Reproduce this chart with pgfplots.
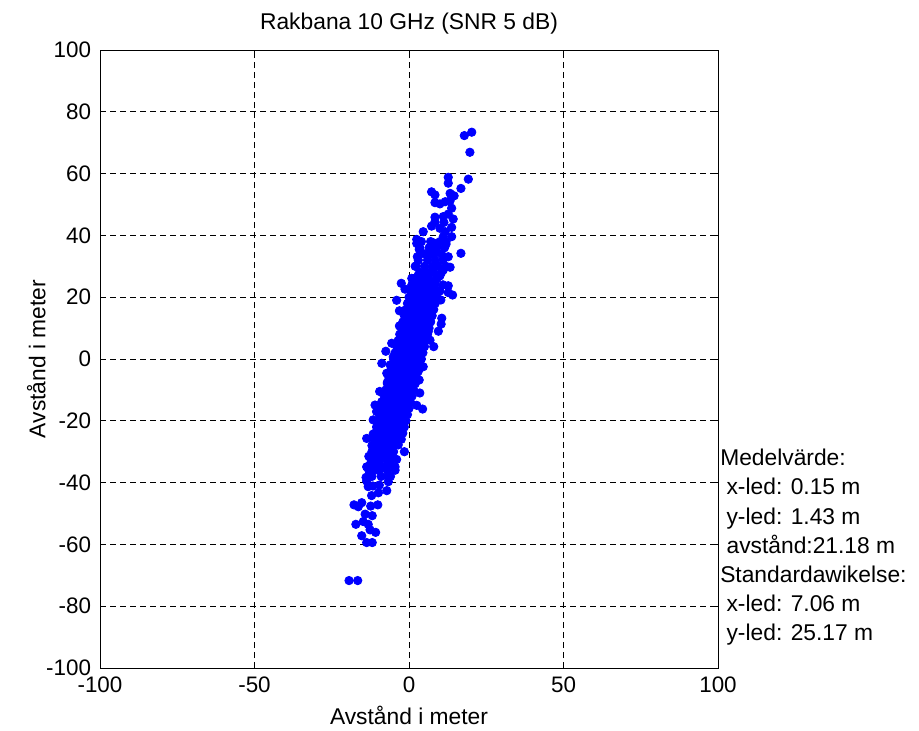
\documentclass[border=0pt]{standalone}
\usepackage{pgfplots}
\pgfplotsset{compat=1.18}
\usepackage{fontspec}
\setmainfont{Liberation Sans}
\begin{document}
\fontsize{11.4}{13.6}\selectfont
\begin{tikzpicture}
\useasboundingbox (-50pt,-31pt) rectangle (409.5pt,334pt);
\begin{axis}[
  at={(0,0)}, anchor=south west,
  scale only axis, width=309pt, height=309pt,
  xmin=-100, xmax=100, ymin=-100, ymax=100,
  xtick={-100,-50,0,50,100}, ytick={-100,-80,...,100},
  tick align=inside, major tick length=3pt,
  axis on top,
  axis line style={black, line width=0.5pt},
  every tick/.style={black, line width=0.5pt},
  grid=major,
  major grid style={black, line width=0.4pt, dash pattern=on 3pt off 2pt},
  /pgf/number format/assume math mode=true,
  tick label style={font=\fontsize{11.2}{13.4}\selectfont},
  xticklabel style={yshift=-0.5pt},
  yticklabel style={xshift=-0.5pt},
  title={Rakbana 10 GHz (SNR 5 dB)},
  title style={font=\fontsize{11.4}{13.6}\selectfont, yshift=-2pt},
  xlabel={Avstånd i meter}, ylabel={Avstånd i meter},
  label style={font=\fontsize{11.4}{13.6}\selectfont},
  xlabel style={yshift=1pt},
  ylabel style={yshift=-7.5pt},
  clip=false,
]
\addplot[only marks, mark=*, mark size=2.1pt, color={rgb,255:red,0;green,0;blue,255}, mark options={draw={rgb,255:red,0;green,0;blue,255}, fill={rgb,255:red,0;green,0;blue,255}}] coordinates {
(20.3,73.4)(17.9,72.3)(19.7,66.9)(19.2,58.2)(12.7,58.8)(12.7,56.9)(16.8,55.2)(7.3,54.1)(8.4,53.1)(13.3,53.6)(14.6,52.8)
(8.4,50.6)(10.0,50.2)(11.7,50.9)(13.3,51.2)(13.8,48.8)(12.7,46.9)(11.1,46.1)(8.4,45.9)(14.3,45.3)(8.4,44.4)(11.3,44.2)
(7.3,43.0)(10.0,42.3)(13.8,42.6)(4.6,41.2)(11.7,41.2)(2.5,38.7)(11.1,39.6)(13.8,39.6)
(2.5,37.4)(7.9,37.6)(12.0,37.2)(3.3,35.5)(16.8,34.2)(2.7,33.1)(6.6,33.7)(8.7,34.4)(12.7,33.1)
(2.3,30.1)(13.3,29.7)(11.1,28.8)(5.2,27.7)(10.0,26.9)(0.9,26.1)(3.0,27.2)(0.9,23.9)(12.7,23.7)(-1.3,22.6)
(0.9,20.2)(12.7,21.5)(14.1,20.7)(10.3,19.1)(7.9,17.8)(-3.1,15.6)(10.6,13.2)(10.4,11.3)(6.8,12.6)(-3.1,10.7)
(6.2,8.8)(-5.6,5.1)(6.8,6.1)(-5.1,0.7)
(-8.8,-1.4)(-6.1,-1.9)(4.6,-2.5)(-7.2,-4.6)(3.3,-6.8)(4.4,-16.2)(-11.0,-14.9)(-8.8,-13.8)(-11.6,-19.7)(-13.7,-25.7)
(-11.6,-24.3)(-11.6,-28.2)(-13.7,-34.9)(-12.1,-36.5)(-13.9,-38.3)(-3.5,-27.8)(-4.0,-32.5)(-4.5,-34.9)(-6.7,-37.9)
(-8.8,-35.4)(-2.7,-22.4)(-1.8,-19.2)
(-13.7,-39.5)(-6.7,-39.7)(-9.6,-40.8)(-13.2,-41.3)(-11.7,-41.1)(-7.2,-42.6)(-9.9,-43.3)(-12.1,-44.2)(-17.8,-47.2)
(-15.3,-46.5)(-16.4,-47.8)(-12.4,-47.6)(-10.1,-47.2)(-14.2,-50.2)(-11.9,-50.7)(-14.8,-52.6)(-17.2,-53.5)(-13.2,-53.5)
(-12.6,-55.3)(-10.8,-56.1)(-15.3,-57.2)(-13.7,-59.4)(-11.9,-59.4)(-19.4,-71.7)(-16.6,-71.7)
(4,38)(7,38)(10,38)(12,38)(3.5,36)(6.5,36)(9,36)(11.5,36)(5,34)(8,34)(10.5,34)
(3,32)(6,32)(8.5,32)(11,32)(2,30)(5,30)(7.5,30)(9.5,30)(12,30)(3.5,28)(6,28)(8,28)(10.5,28)
(1.5,26)(4,26)(6.5,26)(9,26)(2.5,25)(5,25)(7.5,25)(1,24)(3.5,24)(6,24)(8.5,24)(11,24)(2,23)(4.5,23)(7,23)
(0.5,22)(3,22)(5.5,22)(8,22)(10,22)(1.5,21)(4,21)(6.5,21)(0,20)(2.5,20)(5,20)(7,20)(9,20)(1,19)(3.5,19)(6,19)
(-0.5,18)(2,18)(4.5,18)(7,18)(8.5,18)(1,17)(3,17)(5.5,17)(-1,16)(1.5,16)(4,16)(6,16)(8,16)(0,15)(2.5,15)(5,15)
(-1.5,14)(1,14)(3.5,14)(5.5,14)(7.5,14)(0,13)(2,13)(4.5,13)(-2,12)(0.5,12)(3,12)(5,12)(7,12)(-0.5,11)(1.5,11)(4,11)
(-2.5,10)(0,10)(2.5,10)(4.5,10)(6.5,10)(-1,9)(1,9)(3.5,9)(-3,8)(-0.5,8)(2,8)(4,8)(6,8)(-1.5,7)(0.5,7)(3,7)
(-3.5,6)(-1,6)(1.5,6)(3.5,6)(5.5,6)(-2,5)(0,5)(2.5,5)(-4,4)(-1.5,4)(1,4)(3,4)(5,4)(-2.5,3)(-0.5,3)(2,3)
(-4.5,2)(-2,2)(0.5,2)(2.5,2)(4.5,2)(-3,1)(-1,1)(1.5,1)(-5,0)(-2.5,0)(0,0)(2,0)(4,0)(-3.5,-1)(-1.5,-1)(1,-1)
(-5.5,-2)(-3,-2)(-0.5,-2)(1.5,-2)(3.5,-2)(-4,-3)(-2,-3)(0.5,-3)(-6,-4)(-3.5,-4)(-1,-4)(1,-4)(3,-4)(-4.5,-5)(-2.5,-5)(0,-5)
(-6.5,-6)(-4,-6)(-1.5,-6)(0.5,-6)(2.5,-6)(-5,-7)(-3,-7)(-0.5,-7)(-7,-8)(-4.5,-8)(-2,-8)(0,-8)(2,-8)(-5.5,-9)(-3.5,-9)(-1,-9)
(-7.5,-10)(-5,-10)(-2.5,-10)(-0.5,-10)(1.5,-10)(-6,-11)(-4,-11)(-1.5,-11)(-8,-12)(-5.5,-12)(-3,-12)(-1,-12)(1,-12)(-6.5,-13)(-4.5,-13)(-2,-13)
(-8.5,-14)(-6,-14)(-3.5,-14)(-1.5,-14)(0.5,-14)(-7,-15)(-5,-15)(-2.5,-15)(-9,-16)(-6.5,-16)(-4,-16)(-2,-16)(0,-16)(-7.5,-17)(-5.5,-17)(-3,-17)
(-9.5,-18)(-7,-18)(-4.5,-18)(-2.5,-18)(-0.5,-18)(-8,-19)(-6,-19)(-3.5,-19)(-10,-20)(-7.5,-20)(-5,-20)(-3,-20)(-1,-20)(-8.5,-21)(-6.5,-21)(-4,-21)
(-10.5,-22)(-8,-22)(-5.5,-22)(-3.5,-22)(-1.5,-22)(-9,-23)(-7,-23)(-4.5,-23)(-11,-24)(-8.5,-24)(-6,-24)(-4,-24)(-2,-24)(-9.5,-25)(-7.5,-25)(-5,-25)
(-11.5,-26)(-9,-26)(-6.5,-26)(-4.5,-26)(-2.5,-26)(-10,-27)(-8,-27)(-5.5,-27)(-12,-28)(-9.5,-28)(-7,-28)(-5,-28)(-10.5,-29)(-8.5,-29)(-6,-29)
(-12,-30)(-10,-30)(-7.5,-30)(-5,-30)(-11,-31)(-9,-31)(-6.5,-31)(-12.5,-32)(-10,-32)(-8,-32)(-5.5,-32)(-11,-33)(-7,-33)
(-12.5,-34)(-9.5,-34)(-6,-34)(-11,-35)(-8,-35)(-13,-36)(-10,-36)(-7,-36)(-4.5,-36)(-12,-38)(-9,-38)(-6,-38)
(-7.5,2.5)(-7,-7.5)(-9.5,-10.5)(-10.5,-17)(3.5,-11)(2.5,-15)(8,4)(9.5,9)(-2.5,24.5)(-4,19)(-13,-31.5)(-1.5,-30)
};
\node[anchor=west, align=left, font=\fontsize{11.4}{14.6}\selectfont, inner sep=0pt] at (axis cs:100.6,-61)
{Medelvärde:\\\ x-led: 0.15 m\\\ y-led: 1.43 m\\\ avstånd:21.18 m\\Standardawikelse:\\\ x-led: 7.06 m\\\ y-led: 25.17 m};
\end{axis}
\end{tikzpicture}
\end{document}
